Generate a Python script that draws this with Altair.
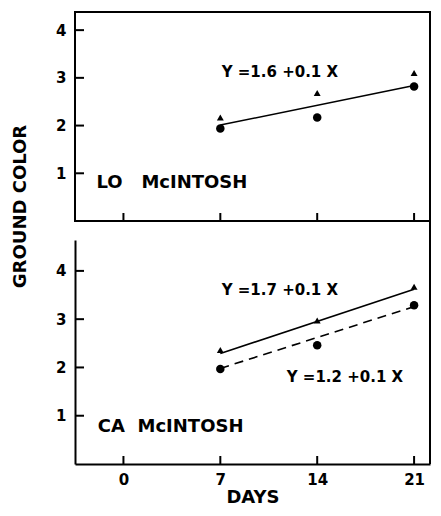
import altair as alt
import pandas as pd

# ---- data ----
days = [7, 14, 21]
lo_triangle = [2.17, 2.68, 3.10]
lo_circle = [1.94, 2.17, 2.82]
fit_days = [7, 21]
lo_fit = [2.01, 2.84]

ca_triangle = [2.36, 2.97, 3.67]
ca_circle = [1.97, 2.46, 3.29]
ca_fit_triangle = [2.29, 3.62]
ca_fit_circle = [1.98, 3.26]

x_ticks = [0, 7, 14, 21]
y_ticks = [1, 2, 3, 4]

NB = "\u00a0"
top_labels = ["Y =1.6 +0.1 X", "LO" + NB * 3 + "McINTOSH"]
top_label_x = [7.1, -1.95]
top_label_y = [3.13, 0.79]
top_label_size = [15, 18]

bot_labels = ["Y =1.7 +0.1 X", "Y =1.2 +0.1 X", "CA" + NB * 2 + "McINTOSH"]
bot_label_x = [7.1, 11.8, -1.85]
bot_label_y = [3.6, 1.8, 0.77]
bot_label_size = [15, 15, 18]

FONT = "DejaVu Sans"
W = 355
H_TOP = 209
H_BOT = 224
GAP = 19
X_DOMAIN = [-3.5, 22.15]
Y_TOP = [0, 4.38]
Y_BOT = [0, 4.64]

x_scale = alt.Scale(domain=X_DOMAIN, nice=False, zero=False)


def panel(tri, circ, fits, labels, lx, ly, lsize, ydom, height, bottom):
    y_scale = alt.Scale(domain=ydom, nice=False, zero=False)
    if bottom:
        x_axis = alt.Axis(values=x_ticks, domain=True, domainColor="black", domainWidth=2,
                          ticks=False, grid=False, labelFont=FONT, labelFontSize=15,
                          labelFontWeight="bold", labelColor="black", labelPadding=8,
                          title="DAYS", titleFont=FONT, titleFontSize=18, titleFontWeight="bold",
                          titleColor="black", titlePadding=1)
        y_axis = alt.Axis(values=y_ticks, domain=True, domainColor="black", domainWidth=2,
                          ticks=False, grid=False, labelFont=FONT, labelFontSize=15,
                          labelFontWeight="bold", labelColor="black", labelPadding=9,
                          title=None)
    else:
        x_axis = None
        y_axis = alt.Axis(values=y_ticks, domain=False, ticks=False, grid=False,
                          labelFont=FONT, labelFontSize=15, labelFontWeight="bold",
                          labelColor="black", labelPadding=9,
                          title="GROUND COLOR", titleFont=FONT, titleFontSize=18,
                          titleFontWeight="bold", titleColor="black", titleAngle=270,
                          titleX=-50, titleY=194, titleBaseline="alphabetic", titleAlign="center")

    def X(field="day"):
        return alt.X(f"{field}:Q", scale=x_scale, axis=x_axis)

    def Y(field="value"):
        return alt.Y(f"{field}:Q", scale=y_scale, axis=y_axis)

    tri_df = pd.DataFrame({"day": days, "value": tri})
    circ_df = pd.DataFrame({"day": days, "value": circ})

    layers = []
    for fit, dash in fits:
        fdf = pd.DataFrame({"day": fit_days, "value": fit})
        kw = {"strokeDash": dash} if dash else {}
        layers.append(alt.Chart(fdf).mark_line(color="black", strokeWidth=1.6, **kw)
                      .encode(x=X(), y=Y()))
    layers.append(alt.Chart(circ_df).mark_point(shape="circle", filled=True, color="black",
                                                size=72, opacity=1).encode(x=X(), y=Y()))
    layers.append(alt.Chart(tri_df).mark_point(shape="triangle-up", filled=True, color="black",
                                               size=48, opacity=1).encode(x=X(), y=Y()))
    # inward ticks
    ydf = pd.DataFrame({"value": y_ticks})
    layers.append(alt.Chart(ydf).mark_rule(color="black", strokeWidth=2)
                  .encode(y=Y(), x=alt.value(0), x2=alt.value(9)))
    xdf = pd.DataFrame({"day": x_ticks})
    layers.append(alt.Chart(xdf).mark_rule(color="black", strokeWidth=2)
                  .encode(x=X(), y=alt.value(height), y2=alt.value(height - 8)))
    tdf = pd.DataFrame({"day": lx, "value": ly, "label": labels, "fs": lsize})
    layers.append(alt.Chart(tdf).mark_text(font=FONT, fontWeight="bold",
                                           color="black", align="left", baseline="middle")
                  .encode(x=X(), y=Y(), text="label:N",
                          size=alt.Size("fs:Q", scale=None, legend=None)))
    if bottom:
        rdf = pd.DataFrame({"k": [0]})
        layers.append(alt.Chart(rdf).mark_rule(color="black", strokeWidth=2)
                      .encode(x=alt.value(W), y=alt.value(-GAP), y2=alt.value(height)))
        view = alt.ViewBackground(stroke="transparent")
    else:
        view = alt.ViewBackground(stroke="black", strokeWidth=2)
    return alt.layer(*layers).properties(width=W, height=height, view=view)


top = panel(lo_triangle, lo_circle, [(lo_fit, None)], top_labels, top_label_x, top_label_y,
            top_label_size, Y_TOP, H_TOP, False)
bot = panel(ca_triangle, ca_circle, [(ca_fit_triangle, None), (ca_fit_circle, [9, 6])],
            bot_labels, bot_label_x, bot_label_y, bot_label_size, Y_BOT, H_BOT, True)

chart = alt.vconcat(top, bot, spacing=GAP, bounds="flush").properties(
    padding={"left": 2, "top": 3, "right": 0, "bottom": 0}
).configure(font=FONT)

chart.save("out.html", embed_options={"renderer": "svg", "actions": False})
